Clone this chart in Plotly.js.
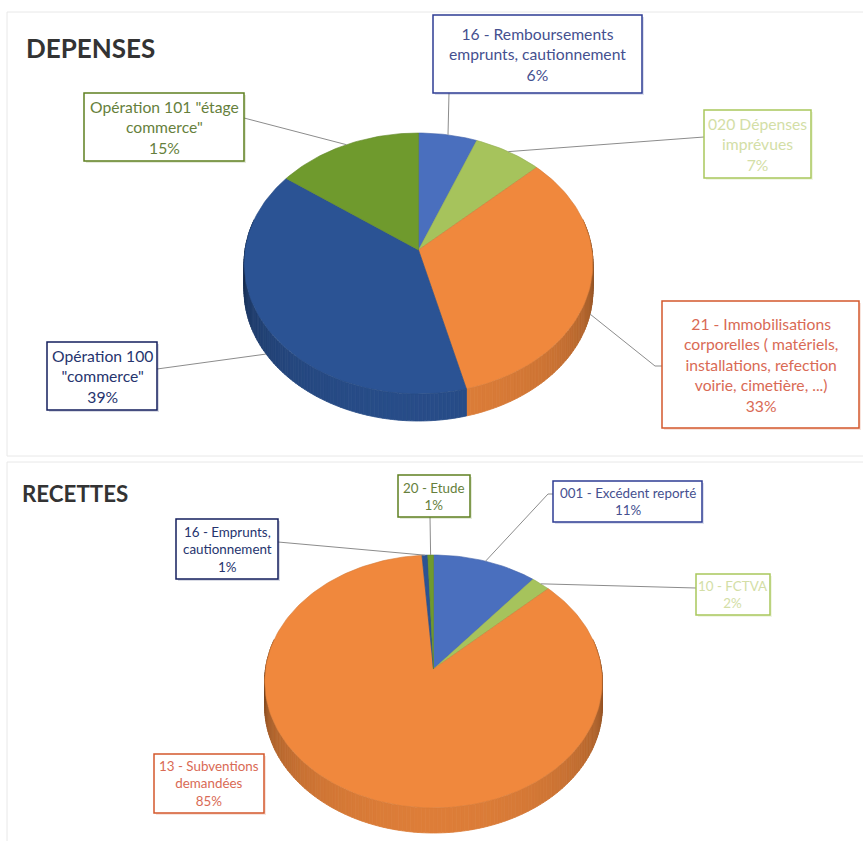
<!DOCTYPE html>
<html>
<head>
<meta charset="utf-8">
<script src="https://cdn.plot.ly/plotly-3.0.1.min.js"></script>
<style>html,body{margin:0;padding:0;background:#fff}</style>
</head>
<body>
<div id="chart" style="width:863px;height:841px"></div>
<script>
// ---------- values ----------
const depensesLabels = ['16 - Remboursements<br>emprunts, cautionnement','020 Dépenses<br>imprévues','21 - Immobilisations<br>corporelles ( matériels,<br>installations, refection<br>voirie, cimetière, ...)','Opération 100<br>"commerce"','Opération 101 "étage<br>commerce"'];
const depensesShares = [6, 7, 33, 39, 15];
const depensesPrinted = [6, 7, 33, 39, 15];
const recettesLabels = ['001 - Excédent reporté','10 - FCTVA','13 - Subventions<br>demandées','16 - Emprunts,<br>cautionnement','20 - Etude'];
const recettesShares = [11, 2, 85.8, 0.6, 0.6];
const recettesPrinted = [11, 2, 85, 1, 1];

// ---------- styling and layout ----------
const sliceColors = ['#4a6fbe','#a6c35c','#f0883d','#2b5394','#6f9a2d'];
const textColors  = ['#45508f','#d3dea6','#d96a55','#26346e','#667f3c'];
const boxColors   = ['#2e3c94','#a9c75c','#d4582c','#141f5e','#5f8020'];
const depensesGeom = {cx:418.5, cy:250, up:117, down:144, rx:173.5, depth:27, font:15.7};
const recettesGeom = {cx:433.5, cy:669, up:114, down:139, rx:168, depth:25, font:13.4};
const depensesBoxes = [[433,642,15,93],[704,811,110,178],[662,859,301,428],[47,157,342,410],[84,244,93,161]];
const recettesBoxes = [[553,702,481,522],[696,770,574,615],[154,264,754,813],[176,278,519,579],[398,470,475,517]];
// label side of each leader line (null = no leader drawn)
const depensesLeaderEnds = [[[449,93]],[[704,137]],[[655,366],[662,366]],[[157,369]],[[244,118]]];
const recettesLeaderEnds = [[[548,494],[553,494]],[[696,588]],null,[[278,542]],[[430,517]]];

function shade(hex, f){
  const n = parseInt(hex.slice(1),16);
  const c = [n>>16&255, n>>8&255, n&255].map(v=>Math.round(v*f));
  return 'rgb('+c.join(',')+')';
}
// perspective projection of a point of the disc rim
function rim(g, deg){
  const t = deg*Math.PI/180, X = Math.sin(t), Y = Math.cos(t);
  const k = (g.down-g.up)/(g.down+g.up);
  const A = g.up*(1+k), w = 1+k*Y;
  return [g.cx + g.rx*X/w, g.cy - A*Y/w];
}
function arc(g, a0, a1){
  const n = Math.max(2, Math.ceil((a1-a0)/1.5)), pts = [];
  for(let i=0;i<=n;i++) pts.push(rim(g, a0+(a1-a0)*i/n));
  return pts;
}

const traces = [], shapes = [], annotations = [];

function addPie(g, labels, shares, printed, boxes, leaderEnds){
  const total = shares.reduce((a,b)=>a+b,0);
  const starts = []; let c = 0;
  shares.forEach(s=>{starts.push(c/total*360); c+=s;});
  // side wall: fine steps so the shading has no visible bands
  shares.forEach((s,i)=>{
    const a0 = Math.max(starts[i],76), a1 = Math.min(starts[i]+s/total*360,284);
    if(a1<=a0) return;
    const n = Math.ceil((a1-a0)/1.2);
    for(let j=0;j<n;j++){
      const b0 = a0+(a1-a0)*j/n, b1 = a0+(a1-a0)*(j+1)/n, m = (b0+b1)/2;
      const f = 0.42+0.5*Math.min(1,Math.sqrt(Math.abs(Math.cos(m*Math.PI/180))));
      const top = [rim(g,b0),rim(g,b1)], low = top.map(p=>[p[0],p[1]+g.depth]).reverse(), poly = top.concat(low);
      poly.push(poly[0]);
      const col = shade(sliceColors[i],f);
      traces.push({type:'scatter',mode:'lines',x:poly.map(p=>p[0]),y:poly.map(p=>p[1]),fill:'toself',
        fillcolor:col,line:{color:col,width:0.8},hoverinfo:'skip',showlegend:false});
    }
  });
  // top face
  shares.forEach((s,i)=>{
    const poly = [[g.cx,g.cy]].concat(arc(g,starts[i],starts[i]+s/total*360)); poly.push([g.cx,g.cy]);
    traces.push({type:'scatter',mode:'lines',x:poly.map(p=>p[0]),y:poly.map(p=>p[1]),fill:'toself',
      fillcolor:sliceColors[i],line:{color:shade(sliceColors[i],0.88),width:0.6},
      name:labels[i].replace(/<br>/g,' '),text:printed[i]+'%',hoverinfo:'name+text',showlegend:false});
  });
  // leader lines, labels
  shares.forEach((s,i)=>{
    const mid = starts[i]+s/total*180;
    if(leaderEnds[i]){
      let a = rim(g,mid);
      if(Math.cos(mid*Math.PI/180)<0) a=[a[0],a[1]+g.depth];
      const pts=[a].concat(leaderEnds[i]);
      traces.push({type:'scatter',mode:'lines',x:pts.map(p=>p[0]),y:pts.map(p=>p[1]),
        line:{color:'#8c8c8c',width:1},hoverinfo:'skip',showlegend:false});
    }
    const b = boxes[i];
    shapes.push({type:'rect',xref:'x',yref:'y',x0:b[0]+2,x1:b[1]+2,y0:b[2]+2,y1:b[3]+2,line:{width:0},fillcolor:shade(boxColors[i],1).replace('rgb','rgba').replace(')',',0.16)'),layer:'above'});
    shapes.push({type:'rect',xref:'x',yref:'y',x0:b[0],x1:b[1],y0:b[2],y1:b[3],line:{color:boxColors[i],width:1.5},fillcolor:'#ffffff',layer:'above'});
    annotations.push({xref:'x',yref:'y',x:(b[0]+b[1])/2,y:(b[2]+b[3])/2,text:labels[i]+'<br>'+printed[i]+'%',
      showarrow:false,align:'center',xanchor:'center',yanchor:'middle',
      font:{family:'Lato, Carlito, sans-serif',size:g.font,color:textColors[i]}});
  });
}

addPie(depensesGeom, depensesLabels, depensesShares, depensesPrinted, depensesBoxes, depensesLeaderEnds);
addPie(recettesGeom, recettesLabels, recettesShares, recettesPrinted, recettesBoxes, recettesLeaderEnds);

annotations.push({xref:'x',yref:'y',x:24,y:48,text:'<b>DEPENSES</b>',showarrow:false,xanchor:'left',yanchor:'middle',
  font:{family:'Lato, sans-serif',size:26,color:'#333333'}});
annotations.push({xref:'x',yref:'y',x:20,y:493,text:'<b>RECETTES</b>',showarrow:false,xanchor:'left',yanchor:'middle',
  font:{family:'Lato, sans-serif',size:22.3,color:'#333333'}});

// panel frames
shapes.push({type:'rect',xref:'x',yref:'y',x0:7,x1:870,y0:12,y1:456,line:{color:'#e8e8e8',width:1},fillcolor:'rgba(0,0,0,0)',layer:'below'});
shapes.push({type:'rect',xref:'x',yref:'y',x0:7,x1:870,y0:462,y1:860,line:{color:'#e8e8e8',width:1},fillcolor:'rgba(0,0,0,0)',layer:'below'});

Plotly.newPlot('chart', traces, {
  width:863, height:841, margin:{l:0,r:0,t:0,b:0},
  paper_bgcolor:'#ffffff', plot_bgcolor:'#ffffff', showlegend:false,
  xaxis:{range:[0,863],visible:false,fixedrange:true},
  yaxis:{range:[841,0],visible:false,fixedrange:true},
  shapes:shapes, annotations:annotations
}, {displayModeBar:false, staticPlot:true});
</script>
</body>
</html>
